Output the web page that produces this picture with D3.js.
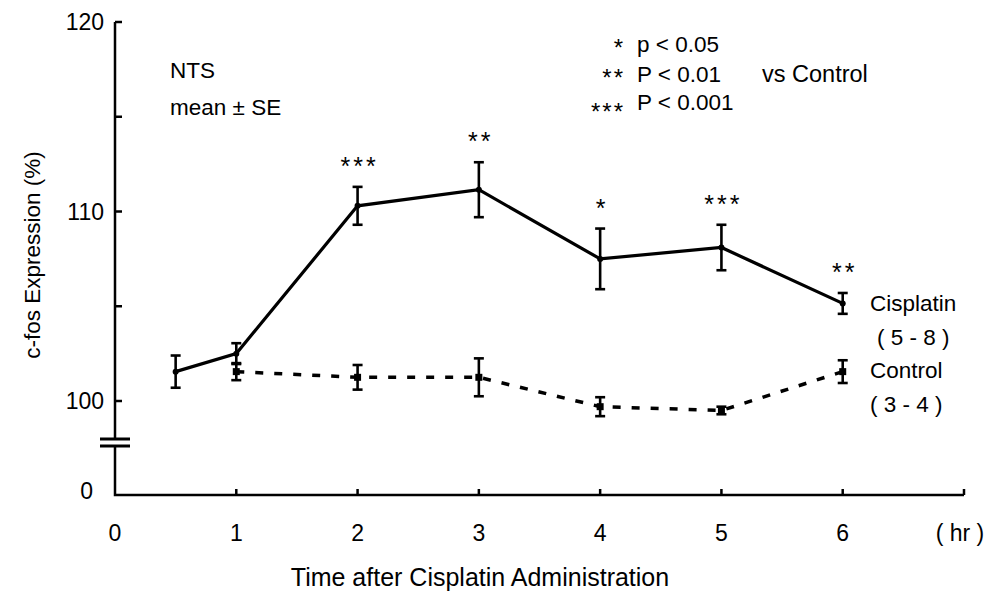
<!DOCTYPE html>
<html>
<head>
<meta charset="utf-8">
<script src="https://cdn.jsdelivr.net/npm/d3@7"></script>
<style>
  html, body { margin: 0; padding: 0; background: #fff; }
  svg { display: block; }
  text { font-family: "Liberation Sans", Arial, sans-serif; fill: #000; }
</style>
</head>
<body>
<svg id="chart" width="987" height="602"></svg>
<script>
// ---- data ----
const cisTime = [0.5, 1, 2, 3, 4, 5, 6];
const cisMean = [101.55, 102.5, 110.3, 111.15, 107.5, 108.1, 105.15];
const cisSE   = [0.85, 0.55, 1.0, 1.45, 1.6, 1.2, 0.55];
const cisSig  = ["", "", "***", "**", "*", "***", "**"];

const ctlTime = [1, 2, 3, 4, 5, 6];
const ctlMean = [101.55, 101.25, 101.25, 99.7, 99.5, 101.55];
const ctlSE   = [0.45, 0.65, 1.0, 0.5, 0.2, 0.6];

const xTicks = [0, 1, 2, 3, 4, 5, 6];
const yTicks = [100, 105, 110, 115, 120];
const yTickLabels = ["100", "", "110", "", "120"];

const svg = d3.select("#chart");
const FS = 22.5;

const x = d3.scaleLinear().domain([0, 7]).range([115, 964]);
const y = d3.scaleLinear().domain([100, 120]).range([401, 22]);
const axisY = 495;

// ---- axes ----
const axisG = svg.append("g").attr("stroke", "#000").attr("stroke-width", 2.5).attr("fill", "none");
axisG.append("path").attr("d", `M${x(0)},${y(120)} L${x(0)},${axisY} L${x(7)},${axisY}`);
axisG.selectAll(".yt").data(yTicks).enter().append("line")
  .attr("x1", x(0)).attr("x2", x(0) + 7)
  .attr("y1", d => y(d)).attr("y2", d => y(d));
axisG.selectAll(".xt").data(xTicks.slice(1).concat([7])).enter().append("line")
  .attr("x1", d => x(d)).attr("x2", d => x(d))
  .attr("y1", axisY).attr("y2", axisY - 6);

// axis break
svg.append("rect").attr("x", x(0) - 16).attr("y", 440).attr("width", 32).attr("height", 5).attr("fill", "#fff");
svg.append("line").attr("x1", x(0) - 15).attr("x2", x(0) + 15).attr("y1", 439).attr("y2", 439)
  .attr("stroke", "#000").attr("stroke-width", 3);
svg.append("line").attr("x1", x(0) - 15).attr("x2", x(0) + 15).attr("y1", 446).attr("y2", 446)
  .attr("stroke", "#000").attr("stroke-width", 3);

// y tick labels
svg.selectAll(".ytl").data(yTicks).enter().append("text")
  .attr("x", 104).attr("y", d => y(d)).attr("dy", "0.36em")
  .attr("text-anchor", "end").attr("font-size", 23)
  .text((d, i) => yTickLabels[i]);
svg.append("text").attr("x", 93).attr("y", 491).attr("dy", "0.36em")
  .attr("text-anchor", "end").attr("font-size", 23).text("0");

// x tick labels
svg.selectAll(".xtl").data(xTicks).enter().append("text")
  .attr("x", d => x(d)).attr("y", 533).attr("dy", "0.36em")
  .attr("text-anchor", "middle").attr("font-size", 23).text(d => d);
svg.append("text").attr("x", 960).attr("y", 533).attr("dy", "0.36em")
  .attr("text-anchor", "middle").attr("font-size", 23).text("( hr )");

// axis titles
svg.append("text").attr("x", 480).attr("y", 577).attr("dy", "0.36em")
  .attr("text-anchor", "middle").attr("font-size", 25).text("Time after Cisplatin Administration");
svg.append("text").attr("transform", "translate(32,255) rotate(-90)").attr("dy", "0.36em")
  .attr("text-anchor", "middle").attr("font-size", FS).text("c-fos Expression (%)");

// ---- series ----
const cis = cisTime.map((t, i) => ({ t, m: cisMean[i], se: cisSE[i], sig: cisSig[i] }));
const ctl = ctlTime.map((t, i) => ({ t, m: ctlMean[i], se: ctlSE[i] }));
const line = d3.line().x(d => x(d.t)).y(d => y(d.m));

svg.append("path").datum(ctl).attr("d", line).attr("fill", "none")
  .attr("stroke", "#000").attr("stroke-width", 3.5).attr("stroke-dasharray", "8,11");
svg.append("path").datum(cis).attr("d", line).attr("fill", "none")
  .attr("stroke", "#000").attr("stroke-width", 3.2);

function errorBars(data) {
  const g = svg.append("g").attr("stroke", "#000").attr("stroke-width", 2.6);
  data.forEach(d => {
    g.append("line").attr("x1", x(d.t)).attr("x2", x(d.t)).attr("y1", y(d.m - d.se)).attr("y2", y(d.m + d.se));
    g.append("line").attr("x1", x(d.t) - 5).attr("x2", x(d.t) + 5).attr("y1", y(d.m - d.se)).attr("y2", y(d.m - d.se));
    g.append("line").attr("x1", x(d.t) - 5).attr("x2", x(d.t) + 5).attr("y1", y(d.m + d.se)).attr("y2", y(d.m + d.se));
  });
}
errorBars(ctl);
errorBars(cis);

svg.selectAll(".cm").data(cis).enter().append("circle")
  .attr("cx", d => x(d.t)).attr("cy", d => y(d.m)).attr("r", 3).attr("fill", "#000");
svg.selectAll(".sm").data(ctl).enter().append("rect")
  .attr("x", d => x(d.t) - 3.5).attr("y", d => y(d.m) - 3.5).attr("width", 7).attr("height", 7).attr("fill", "#000");

// significance marks
svg.selectAll(".sig").data(cis.filter(d => d.sig)).enter().append("text")
  .attr("x", d => x(d.t) + 2).attr("y", d => y(d.m + d.se) - 12)
  .attr("text-anchor", "middle").attr("font-size", 25).attr("letter-spacing", 3)
  .text(d => d.sig);

// annotations
svg.append("text").attr("x", 170).attr("y", 78).attr("font-size", FS).text("NTS");
svg.append("text").attr("x", 170).attr("y", 115).attr("font-size", FS).text("mean \u00b1 SE");

const legRows = [["*", "p < 0.05", 52], ["**", "P < 0.01", 82], ["***", "P < 0.001", 110]];
legRows.forEach(r => {
  svg.append("text").attr("x", 625).attr("y", r[2] + (r[0] === "***" ? 10 : 4)).attr("text-anchor", "end")
    .attr("font-size", 24).attr("letter-spacing", 2).text(r[0]);
  svg.append("text").attr("x", 637).attr("y", r[2]).attr("font-size", FS).text(r[1]);
});
svg.append("text").attr("x", 762).attr("y", 82).attr("font-size", 23.5).text("vs Control");

// series labels
svg.append("text").attr("x", 870).attr("y", 303).attr("dy", "0.36em").attr("font-size", FS).text("Cisplatin");
svg.append("text").attr("x", 877).attr("y", 337).attr("dy", "0.36em").attr("font-size", FS).text("( 5 - 8 )");
svg.append("text").attr("x", 870).attr("y", 370).attr("dy", "0.36em").attr("font-size", FS).text("Control");
svg.append("text").attr("x", 870).attr("y", 404).attr("dy", "0.36em").attr("font-size", FS).text("( 3 - 4 )");
</script>
</body>
</html>
